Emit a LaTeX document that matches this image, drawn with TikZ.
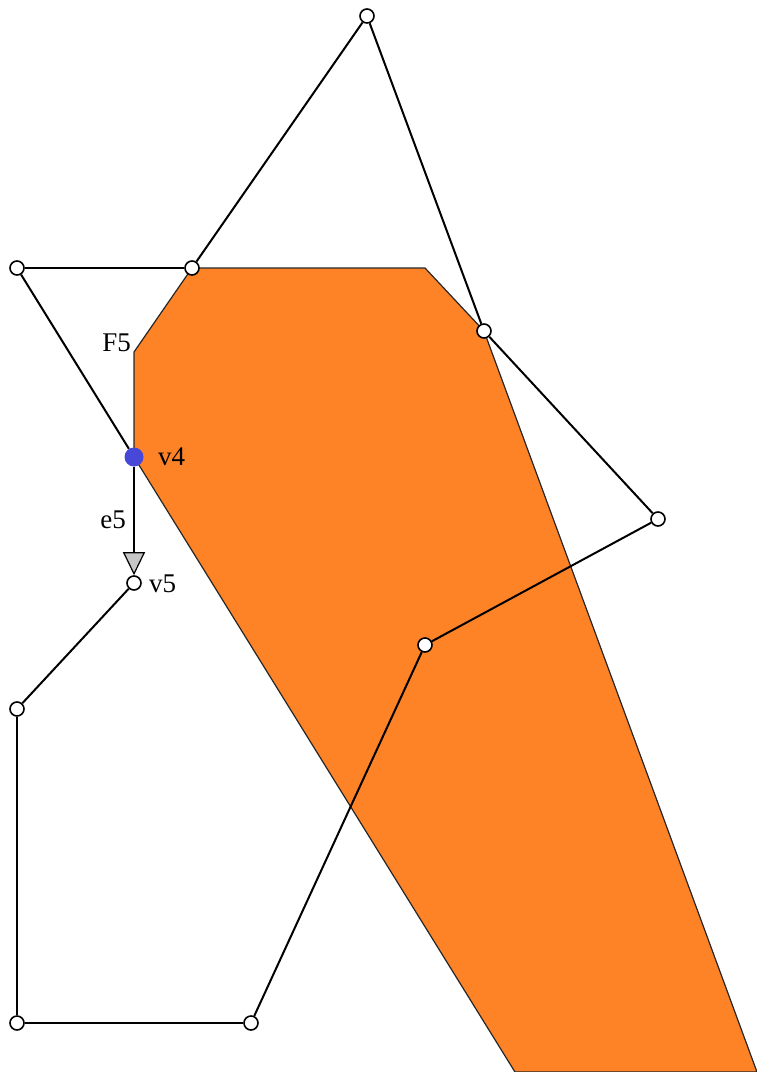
\documentclass[tikz,border=0pt]{standalone}
\usepackage{fontspec}
\setmainfont{Liberation Serif}
\usetikzlibrary{arrows.meta}

\definecolor{facefill}{RGB}{254,131,39}
\definecolor{vtxblue}{RGB}{72,72,216}

\begin{document}
\begin{tikzpicture}[
  x=1pt, y=-1pt,
  vtx/.style={
    circle, draw=black, fill=white,
    line width=1.6pt, inner sep=0pt, minimum size=14pt
  },
  hot/.style={
    circle, fill=vtxblue, inner sep=0pt, minimum size=19pt
  },
  edg/.style={line width=2pt, draw=black},
  arr/.style={edg, -{Triangle[length=23pt, width=22pt, fill=gray!45, line width=1.2pt]}},
  lbl/.style={font=\fontsize{27}{31}\selectfont, inner sep=1pt}
]
  \useasboundingbox (0,0) rectangle (757,1072);

  % face F5
  \fill[facefill, draw=black!85, line width=1.2pt]
    (134,352) -- (192,268) -- (425,268) -- (484,331) -- (757,1072)
    -- (515,1072) -- (134,457) -- cycle;

  \node[vtx] (p1) at (17,268) {};
  \node[vtx] (p2) at (192,268) {};
  \node[vtx] (p3) at (367,16) {};
  \node[vtx] (p4) at (484,331) {};
  \node[vtx] (p5) at (658,519) {};
  \node[vtx] (p6) at (425,645) {};
  \node[vtx] (p7) at (251,1023) {};
  \node[vtx] (p8) at (17,1023) {};
  \node[vtx] (p9) at (17,709) {};
  \node[vtx] (v5) at (134,583) {};
  \node[hot] (v4) at (134,457) {};

  \draw[edg] (p1) -- (p2);
  \draw[edg] (p2) -- (p3);
  \draw[edg] (p3) -- (p4);
  \draw[edg] (p4) -- (p5);
  \draw[edg] (p5) -- (p6);
  \draw[edg] (p6) -- (p7);
  \draw[edg] (p7) -- (p8);
  \draw[edg] (p8) -- (p9);
  \draw[edg] (p9) -- (v5);
  \draw[edg] (p1) -- (v4);
  \draw[arr] (v4) -- (v5);

  \node[lbl, anchor=east] (f5) at (132,343) {F5};
  \node[lbl, anchor=west] (l4) at (157,457) {v4};
  \node[lbl, anchor=east] (e5) at (127,520) {e5};
  \node[lbl, anchor=west] (l5) at (148,584) {v5};
\end{tikzpicture}
\end{document}
